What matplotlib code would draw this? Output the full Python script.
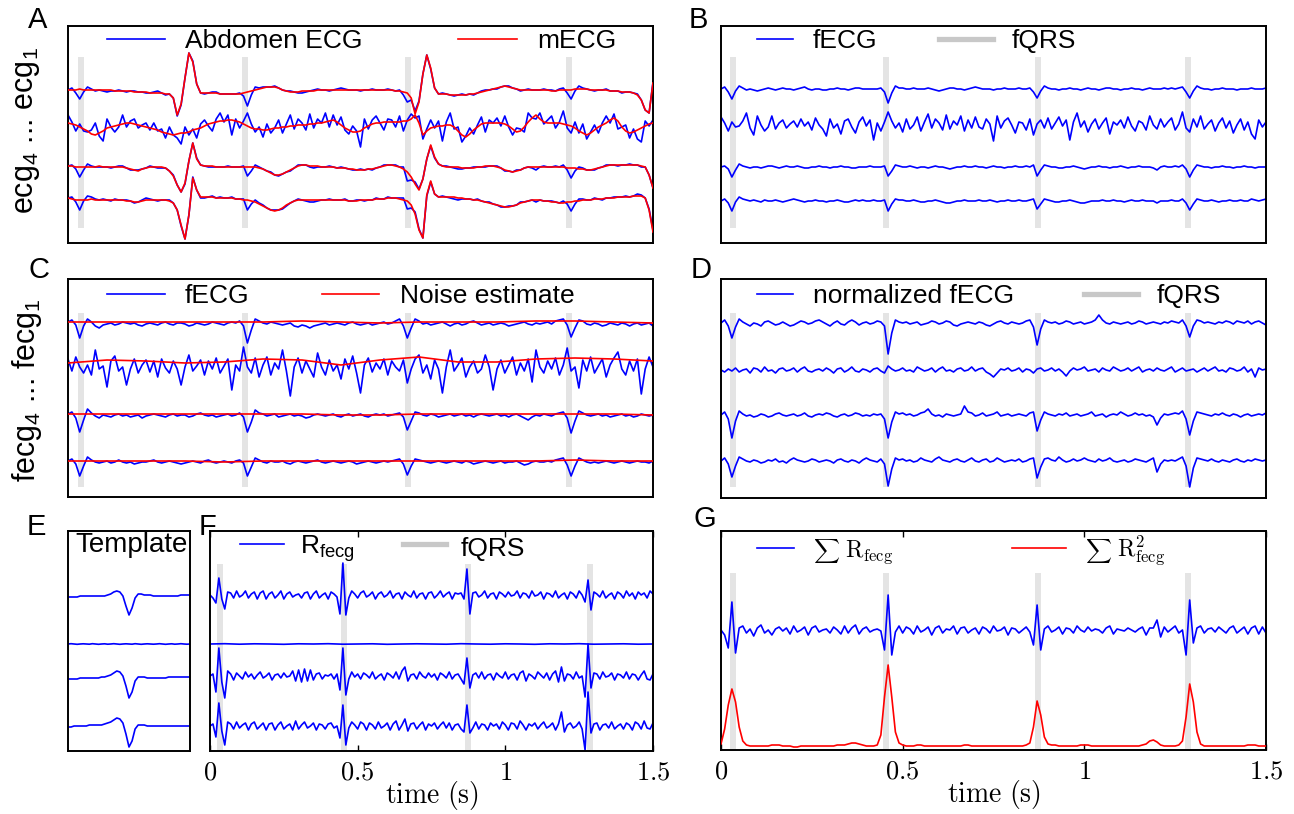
import numpy as np
import matplotlib
matplotlib.use('Agg')
import matplotlib.pyplot as plt
from matplotlib.lines import Line2D

# fetal QRS times (s)
fqrs_times = [0.033, 0.455, 0.872, 1.285]

# A: maternal ECG estimate per channel (px, up = positive), 0..1.5 s every 10 ms
mecg_1 = [0, 0, 0, 1, 0, 0, 0, 0, 0, 0,
          0, 0, -1, -1, -1, -1, -1, -2, -2, -2,
          -2, -3, -3, -3, -3, -4, -4, -8, -25, -14,
          12, 37, 28, 6, -3, -3, -3, -3, -3, -4,
          -4, -4, -4, -4, -4, -3, -2, -1, 0, 1,
          2, 3, 3, 3, 2, 0, -1, -2, -2, -2,
          -1, -1, -1, -1, 0, 0, 0, 0, 0, 0,
          0, 0, 0, 0, 0, 0, 0, 0, 0, 0,
          0, 0, 0, 0, -1, -1, -2, -3, -8, -24,
          -12, 16, 35, 22, 2, -4, -4, -4, -5, -5,
          -5, -5, -5, -4, -4, -3, -2, -1, 0, 1,
          2, 3, 4, 3, 2, 1, 0, 0, 0, 0,
          0, 0, 0, 0, -1, -1, 0, 0, 0, 0,
          1, 1, 1, 1, 0, 0, 0, 0, 0, -1,
          -1, -1, -2, -2, -2, -3, -5, -10, -20, -23,
          7]
mecg_2 = [2, 1, 0, -2, -4, -6, -9, -10, -8, -6,
          -3, -2, -1, 0, 1, 2, 2, 1, 0, -1,
          -2, -3, -4, -5, -7, -8, -9, -10, -9, -8,
          -8, -7, -5, -4, -3, -1, 1, 2, 3, 4,
          4, 5, 5, 4, 3, 1, -1, -3, -4, -4,
          -5, -5, -4, -3, -3, -2, -2, -1, -1, 0,
          0, 0, 1, 1, 2, 2, 3, 4, 5, 3,
          0, -3, -5, -7, -7, -6, -3, -1, 1, 2,
          2, 3, 3, 3, 3, 3, 4, 4, 6, 10,
          2, -10, -6, -3, -2, -1, -1, 0, 0, -2,
          -6, -10, -12, -9, -5, -2, 1, 2, 2, 2,
          2, 2, 1, -1, -4, -7, -6, -2, 3, 7,
          10, 6, 3, 2, 2, 2, 2, 1, 0, -1,
          -3, -6, -8, -10, -8, -5, -2, 0, 2, 5,
          7, 4, -2, -6, -8, -7, -5, -3, -1, 1,
          2]
mecg_3 = [1, 1, 0, 0, 0, 0, 0, 0, 1, 0,
          0, 0, 0, 0, 0, -1, -2, -3, -4, -2,
          -1, 0, 0, 0, 0, -1, -4, -9, -18, -25,
          -16, 6, 24, 8, 2, 1, 1, 1, 0, 0,
          0, 0, 0, 0, 0, 0, 0, 0, 0, -1,
          -2, -4, -6, -8, -8, -7, -5, -3, -1, 1,
          2, 2, 1, 1, 1, 0, 0, 0, 0, -1,
          -1, -1, -2, -2, -3, -3, -3, -2, -2, -1,
          0, 1, 2, 2, 1, 0, -2, -5, -10, -17,
          -23, -12, 8, 22, 10, 3, 1, 0, 0, 0,
          0, -1, -1, -1, -1, 0, 0, 1, 1, 1,
          0, -1, -3, -4, -5, -4, -3, -1, 0, 0,
          0, 0, 0, 0, 0, 0, 0, 0, -1, -1,
          -1, -2, -2, -3, -3, -2, -1, 0, 1, 2,
          2, 2, 2, 2, 2, 2, 2, 1, 0, -8,
          -21]
mecg_4 = [2, 1, 0, 0, 0, 0, 1, 0, 0, 0,
          0, 0, 0, 0, 0, -1, -1, -2, -2, -1,
          0, 0, 0, 0, 0, 0, -1, -3, -10, -25,
          -39, -15, 22, 10, 3, 3, 3, 3, 2, 2,
          2, 2, 2, 1, 1, 0, 0, -1, -2, -4,
          -6, -8, -10, -11, -10, -8, -5, -3, -1, 0,
          0, 0, 0, 0, 0, 0, 0, 0, 0, 0,
          0, 0, -1, -1, -1, 0, 0, 0, 0, 1,
          1, 1, 2, 2, 2, 1, 0, -1, -5, -14,
          -30, -38, 5, 19, 6, 3, 3, 3, 3, 3,
          2, 2, 1, 1, 0, 0, -1, -2, -3, -4,
          -5, -6, -7, -7, -6, -5, -3, -2, -1, 0,
          0, 0, -1, -1, -2, -2, -3, -3, -2, -2,
          -1, -1, 0, 0, 0, 1, 1, 1, 2, 2,
          2, 3, 3, 3, 3, 4, 4, 4, 2, -10,
          -32]

# B: fetal ECG (abdomen minus mECG)
fecg_1 = [0, 2, -3, -10, -2, 3, 1, -1, 0, -1,
          -2, -1, 0, 1, 0, -1, 0, 1, 0, 0,
          -1, 0, 1, 2, 0, -1, 0, 0, -1, -1,
          0, 0, 1, 0, 0, -1, 0, 1, 1, 0,
          0, 0, 0, 0, 1, -3, -14, -4, 3, 1,
          1, 0, 0, 1, 0, 0, 0, 1, 0, -1,
          -2, -1, 0, 1, 1, 0, 0, -1, 0, 1,
          2, 1, 0, 0, 0, -1, 0, 0, 1, 0,
          0, 0, 1, 0, 0, 1, -3, -9, -2, 3,
          1, 0, 0, -1, 0, 0, 1, 0, 0, -1,
          0, 1, 0, 0, -1, 0, 1, 1, 0, 0,
          -1, 0, 0, 1, 0, 0, -1, 0, 1, 0,
          0, 0, 1, 0, 1, 0, 1, 2, -3, -9,
          -2, 3, 1, 0, 0, -1, 0, 0, 1, 0,
          0, 0, -1, 0, 0, 0, 1, 0, 0, 0,
          1]
fecg_2 = [8, 2, -6, 3, -2, -1, 4, 12, -3, -10,
          9, 0, -6, -2, 9, -4, 2, 5, -3, 1,
          4, -2, 6, -1, 3, -5, 7, 0, -4, -11,
          6, -3, 1, -9, 4, 6, -2, -8, 3, 8,
          -1, 5, -15, 2, -6, 3, 13, 4, -3, 2,
          -7, 6, -4, 0, 8, -6, 3, 11, -3, 6,
          2, -5, 10, -4, 4, 0, 9, -6, 5, -3,
          8, -2, -4, 6, 1, -16, 9, -3, 4, 7,
          0, -8, 3, 2, -5, 6, -10, 1, 5, -3,
          7, -4, 2, 8, -1, 5, -15, 3, 12, -2,
          4, -7, 1, 6, -4, 2, 7, -9, 3, 0,
          5, -3, 8, -1, -6, 4, 2, -5, 9, 0,
          -4, 6, -2, 3, 7, -5, 1, 13, -3, -7,
          6, -2, 9, -4, 1, 5, -6, 2, 7, -3,
          4, -8, 0, 6, -5, 3, -9, -14, 5, -2,
          3]
fecg_3 = [0, 1, -2, -10, -3, 3, 1, 0, -1, 0,
          0, -1, 0, 1, 1, 0, -1, 0, 1, 0,
          0, 1, 0, -1, -1, 0, 0, 1, 0, 0,
          -1, 0, 0, 1, 0, 0, -1, -1, 0, 0,
          0, 1, 0, 0, 0, 1, -9, -4, 2, 1,
          0, 0, 1, 0, -1, 0, 0, -1, 0, 1,
          0, 0, -1, -2, -1, 0, 0, 1, 0, 0,
          1, 0, 0, -1, 0, 1, 0, 0, -1, 0,
          0, 1, 0, 0, 1, 0, 2, -9, -3, 2,
          1, 0, 0, -1, -1, 0, 0, 1, 0, -1,
          -2, -1, 0, 0, 1, 0, 0, -1, 0, 0,
          1, 0, -1, 0, 0, 1, 0, 0, 0, -1,
          -3, 0, 1, 0, 0, 1, 0, 2, -2, -10,
          -3, 2, 1, 0, 0, -1, 0, 0, 1, 0,
          0, -1, 0, 0, 1, 0, 0, -1, 0, 0,
          0]
fecg_4 = [0, 2, -2, -10, -1, 4, 2, 1, 0, 1,
          0, -1, 1, 0, 0, 1, 0, -1, 0, 1,
          2, 1, 0, -1, 0, 0, 1, 0, 0, -1,
          0, 0, 1, 0, -1, -1, 0, 1, 0, 1,
          0, 0, 1, 0, 0, 1, -10, -3, 2, 1,
          1, 0, 0, 1, 0, -1, -1, 0, 0, 1,
          0, -1, -2, -2, -1, 0, 0, 1, 0, 0,
          0, 1, 0, 0, 1, 0, -1, 0, 0, 1,
          0, 0, 1, 0, 0, 1, 2, -8, -3, 2,
          1, 0, -1, -1, 0, 0, 1, 0, -1, -2,
          -2, -1, 0, 0, 0, 1, 0, 0, 1, 0,
          0, -1, 0, 1, 0, 0, 1, 0, 0, 0,
          -2, 0, 0, 0, 1, 0, 0, 2, -2, -9,
          -3, 2, 1, 0, 0, 1, 0, -1, 0, 0,
          1, 0, 0, 1, 0, 0, 2, 1, 0, 1,
          2]

# C: filtered fECG and noise estimate (noise every 100 ms)
cfecg_1 = [0, 2, -3, -16, -4, 3, 0, -4, -6, -3,
           -2, -1, -3, -2, 0, -1, -2, -1, -3, -4,
           -2, -1, -2, -3, -1, 0, -2, -3, -1, -1,
           -2, -4, -3, -1, -2, -3, -2, 0, -1, -2,
           -3, -1, 0, -1, 1, -4, -21, -8, 3, 1,
           -1, -2, 0, -1, -2, -3, -2, -1, -4, -5,
           -3, -4, -6, -4, -3, -2, -1, -3, -2, -1,
           -2, -3, -1, 0, -2, -3, -2, -1, -3, -2,
           -1, 0, -2, -1, 1, 3, -4, -16, -6, 3,
           1, -2, -1, -3, -2, -1, 0, -2, -4, -2,
           -1, -3, -2, 0, 1, -1, -3, -2, -1, -3,
           -2, -1, -2, -4, -3, -2, -1, 0, -2, -3,
           -1, -2, -1, 0, -2, 1, 2, 3, -3, -15,
           -6, 2, 1, -2, -3, -1, -2, -4, -3, -1,
           -2, -3, -1, -2, -4, -2, -1, -3, -2, -1,
           -4]
cfecg_2 = [4, -8, 6, -4, -10, -2, -12, 13, -6, -3,
           -24, 2, 7, -8, -4, -22, -6, 4, -10, -2,
           3, -9, 2, -14, 4, -5, -10, 2, -6, -22,
           -4, 8, -8, -3, 3, -12, 2, -6, 5, -10,
           -3, 4, -27, -2, -8, 16, -4, -10, 5, -14,
           -2, 6, -12, 0, -6, 13, -8, -33, -4, 5,
           -10, 2, -6, -14, 10, -4, -12, 3, -8, -2,
           -16, 4, -6, 7, -10, -30, -2, 5, -9, 0,
           -6, 4, -12, 2, -4, -8, 3, -20, -6, 4,
           8, -10, -2, -16, 3, -6, -30, -4, 13, -8,
           -2, 5, -14, -4, 2, -10, -6, 8, -4, -27,
           -6, 3, -10, -2, 6, -12, 0, -8, 4, -19,
           13, -4, -10, 2, -6, 5, -12, -2, 15, -8,
           -4, -25, 3, -8, 6, -10, -3, 4, -14, -2,
           5, 11, -6, -12, 2, -8, 4, -31, -6, 6,
           -4]
cfecg_3 = [0, 2, -4, -18, -6, 5, 1, -2, -4, -1,
           -2, -3, -1, 0, -2, -1, -3, -2, -1, -4,
           -2, -1, 0, -1, -2, -3, -1, 0, -2, -1,
           -1, -3, -2, 0, 1, -1, -2, -1, -3, -2,
           -1, 0, -2, -1, 1, -3, -18, -8, 4, 1,
           0, -2, -1, 0, -3, -2, -1, 0, -2, -1,
           -2, -4, -3, -1, 0, -1, -2, -1, 0, -2,
           -3, -1, 0, -2, -1, 0, -2, -3, -1, 0,
           -1, 0, -2, -1, 0, 1, -3, -16, -7, 2,
           1, -1, -2, 0, -1, -3, -2, -1, 0, -2,
           -1, 0, -2, -1, -3, -1, 0, -1, -2, -1,
           0, -2, -1, -3, -1, 0, -2, -4, -6, -3,
           -1, -2, 0, -1, -2, 0, 1, 2, -4, -19,
           -7, 3, 1, -1, -2, -1, 0, -2, -1, -3,
           -2, -1, 0, -2, -1, -3, -2, 0, -1, -2,
           -1]
cfecg_4 = [0, 2, -3, -15, -5, 4, 1, -1, -2, -1,
           0, -2, -1, 1, -1, -2, -1, -3, -2, -1,
           -1, 0, 1, -1, -2, -1, 0, -1, -2, -3,
           -2, -1, 0, -1, -2, 0, 1, -1, -2, -1,
           0, -1, -2, 0, 1, -2, -15, -6, 3, 1,
           -1, -2, 0, -1, -1, 0, -2, -3, -1, 0,
           -1, -2, -1, 0, 1, -1, -2, -1, 0, -1,
           -2, -1, 0, -1, -3, -2, -1, 0, -1, -2,
           -1, 0, -1, 0, 1, 2, -3, -14, -5, 2,
           1, 0, -1, -2, -1, 0, -1, -2, -1, 0,
           -1, -2, 0, -1, -3, -2, -1, 0, -1, -2,
           -1, 0, -2, -1, -1, 0, -2, -4, -3, -1,
           0, -1, -1, 0, -1, 1, 2, 3, -4, -15,
           -5, 3, 1, -1, -2, -1, -2, -1, 0, -1,
           -2, -1, 0, -1, -2, -1, 0, -1, -1, -2,
           0]
noise_1 = [0, 0, 0, 0, 0, 0, 1, 0, -1, 0, 0, 0, 1, 1, 0, -1]
noise_2 = [0, 3, 2, 0, 1, 4, 3, -2, 3, 6, 1, 1, 4, 5, 4, 2]
noise_3 = [0, 0, 0, 0, 0, 0, 0, -1, -1, 0, 0, 0, 0, 0, 0, -1]
noise_4 = [0, 0, 0, 0, -1, 0, 0, 0, 0, 0, 0, 0, 0, 1, 0, 0]

# D: normalized fECG
nfecg_1 = [0, 3, -3, -15, -4, 4, 1, -1, -3, 0,
           -1, -3, 1, 2, 0, -2, -1, 1, -1, -3,
           -2, 0, 2, 1, -1, 0, 2, 3, 1, -1,
           -3, 0, 2, -1, -2, 1, 3, 1, -2, 0,
           1, -1, 0, 2, 1, -3, -31, -10, 3, 1,
           0, 1, -1, 0, 1, -2, -1, 0, 2, 1,
           -1, 0, 2, 1, -2, -3, -1, 0, 1, 0,
           -1, 1, 0, -2, -3, -1, 1, 2, 0, -1,
           1, 0, -1, 0, 2, 3, -4, -22, -6, 3,
           1, 0, 1, -1, 0, 2, 1, -1, 0, 1,
           -1, 0, 1, 3, 8, 3, 0, -1, 1, 0,
           -1, 0, 1, -1, 0, 2, 1, -1, 0, 1,
           0, -1, 1, 0, 2, 1, 0, 3, -3, -14,
           -3, 3, 2, 0, 1, 0, -1, 1, 0, 2,
           1, -1, 2, 1, 0, 2, -1, 1, 2, 0,
           -2]
nfecg_2 = [0, -2, 1, -1, 2, -2, 0, 1, -3, 2,
           1, -2, 3, -1, 0, -3, 1, 2, -1, 0,
           2, -2, 1, 3, -1, -2, 0, 1, -1, 2,
           0, -3, 1, 2, -2, 0, 3, -1, -2, 1,
           0, -2, 1, 2, -1, -3, 4, 1, -1, 0,
           2, -1, 0, -2, 3, 1, -1, 0, 2, -2,
           1, 3, -1, 0, -2, 1, 2, -1, 0, 3,
           -1, 1, 2, -2, -4, -7, -3, 1, 0, 2,
           -1, 0, 2, -2, 1, 0, -3, 1, 2, -1,
           0, 2, -1, 1, -2, -6, -1, 2, 0, 1,
           3, -1, 0, 1, -2, 2, 0, -1, 3, 1,
           -1, 0, 2, -1, 1, 3, -2, 0, 1, -1,
           2, 0, -1, 1, 3, -2, 0, 2, -1, 0,
           1, -2, 0, 2, -1, 1, 3, -1, 0, -2,
           2, 1, -1, 0, 3, -2, 1, -7, 2, 0,
           1]
nfecg_3 = [0, 3, -4, -23, -6, 4, 1, -1, 0, -2,
           -1, 1, 0, -2, -1, 1, 2, 0, -1, 0,
           1, -1, 0, 2, -1, -2, 0, 1, 0, 2,
           1, -1, -2, 0, 1, -1, 0, 2, 1, -1,
           0, -1, 1, 0, 1, -4, -23, -7, 3, 1,
           2, 0, 1, -1, 0, 2, 3, 6, 1, -1,
           0, -2, 1, 0, -1, 0, 1, 9, 3, 2,
           -1, 0, 2, -1, 0, 1, 3, -1, 0, 1,
           -1, 0, 1, 0, -1, 2, 3, -16, -5, 3,
           1, 0, -1, 1, 0, 2, -1, 0, 1, -1,
           0, 1, 3, -1, 0, 1, -2, 0, 1, 0,
           3, 1, -1, 0, 2, 0, 1, -1, 0, -2,
           -10, -3, 1, 0, 1, 2, 1, 4, -4, -20,
           -6, 3, 2, 1, 0, -1, 1, 0, 2, 0,
           -1, 1, 0, -2, 0, 1, -1, 0, 1, 0,
           2]
nfecg_4 = [0, 3, -3, -16, -5, 4, 2, 0, -1, 1,
           0, -2, -1, 1, 0, 2, -1, 0, -2, 1,
           3, 1, 0, -1, 0, 2, 1, -1, 0, 1,
           0, -2, 1, 2, 0, -1, 1, 0, -2, 1,
           3, 1, 0, -1, 2, -3, -25, -8, 3, 1,
           2, 0, 1, -1, 0, 3, 1, 0, -1, 2,
           4, 1, 0, -1, 1, 2, 0, -1, 1, 3,
           0, -1, 1, 2, -1, 0, 3, 1, -1, 0,
           1, 0, 2, -1, 0, 2, 3, -17, -6, 2,
           3, 1, 0, 4, 1, -1, 0, 2, 0, 1,
           3, 1, 0, -1, 2, 0, 1, 3, 0, -1,
           0, 1, -1, 0, 2, 1, 0, -1, 1, 3,
           -11, -3, 1, 0, 1, 0, 2, 4, -5, -26,
           -7, 3, 2, 1, 0, 2, 0, -1, 1, 0,
           -1, 1, 2, 0, -1, 1, 0, 2, 1, 0,
           1]

# E: templates (41 samples)
tpl_1 = [-1, -1, -1, -1, 0, 0, 0, 0, 0, 0,
         0, 0, 0, 1, 2, 4, 5, 4, 0, -10,
         -19, -12, -2, 2, 2, 1, 1, 1, 0, 0,
         0, 0, 0, 0, 0, 0, 0, 1, 1, 1, 1]
tpl_2 = [0, 0.3, 0, -0.3, 0, 0.2, 0, -0.2, 0.3, 0,
         -0.3, 0, 0.2, -0.2, 0, 0.3, 0, -0.3, 0, 0.2,
         0, -0.2, 0.3, 0, -0.3, 0, 0.2, 0, -0.2, 0,
         0.3, 0, -0.3, 0, 0.2, -0.2, 0, 0.3, 0, -0.2, 0]
tpl_3 = [-1, -1, -1, -1, 0, 0, 0, 0, 0, 0,
         0, 1, 1, 2, 3, 5, 7, 6, 2, -8,
         -20, -14, -3, 1, 1, 1, 0, 0, 0, 0,
         0, 0, 0, 1, 1, 1, 1, 1, 1, 1, 1]
tpl_4 = [-1, -1, 0, 0, 0, 0, 0, 1, 1, 1,
         1, 1, 2, 3, 4, 6, 8, 7, 3, -8,
         -21, -15, -3, 1, 1, 1, 0, 0, 0, 0,
         0, 0, 0, 0, 0, 0, 0, 0, 0, 0, 0]

# F: correlation with template
rfecg_1 = [0, -3, -8, 17, -4, -14, 3, 2, -3, 4,
           -2, 0, 4, -3, 1, 3, -4, 2, 4, -4,
           1, 3, -3, 0, 4, -4, 1, 3, -2, 0,
           1, -3, 2, 3, -4, 1, 4, -3, 0, 2,
           -4, 3, 1, -2, -19, 32, -20, -3, 4, 1,
           -3, 2, 4, -2, 0, 3, -4, 1, 3, -2,
           0, 4, -3, 1, 2, -4, 3, 0, -2, 4,
           -3, 1, 2, -4, 2, 3, -3, 0, 4, -2,
           1, 3, -4, 2, 1, 2, -4, 26, -19, 2,
           3, -2, 0, 4, -3, 1, 2, -4, 3, 1,
           -2, 3, -1, 0, 4, -3, 2, 1, -3, 4,
           -1, 0, 3, -4, 2, 1, -2, 4, -3, 0,
           2, -4, 3, 1, -3, 4, 0, -7, 15, -15,
           3, 1, -2, 4, -3, 0, 2, -4, 3, 1,
           -3, 4, -1, 2, -4, 3, 0, 2, -3, 4,
           1]
rfecg_2 = [0, 0.3, -0.2, 0.2, 0, -0.3, 0.2, 0, 0.3, -0.2,
           0, 0.2, -0.3, 0, 0.2, 0, -0.2, 0.3, 0, -0.2,
           0.2, 0, -0.3, 0.2, 0, 0.3, -0.2, 0, 0.2, -0.2, 0]
rfecg_3 = [0, 2, -16, 28, -6, -22, 5, 2, -4, 3,
           0, -3, 4, -1, 2, -3, 1, 4, -2, 0,
           3, -4, 1, 2, -2, 3, -1, 0, 5, -5,
           6, -6, 7, -5, 6, -4, 2, 3, -3, 1,
           0, 2, -3, 2, -14, 28, -19, -3, 4, -1,
           2, -3, 3, 1, -2, 4, -3, 0, 2, -4,
           3, 1, -2, 4, -3, 5, 9, -5, 1, 2,
           -3, 4, 0, -2, 3, -1, 2, -4, 3, 1,
           -2, 4, -3, 1, 2, -3, -8, 18, -12, 1,
           3, -2, 4, -3, 1, 2, -4, 3, 0, -2,
           4, -3, 1, 2, -4, 3, 5, -5, 2, 0,
           -3, 4, 1, -2, 3, -4, 2, 5, -6, 9,
           -5, 2, 1, -3, 4, -2, 0, -21, 32, -12,
           3, 2, -3, 4, -1, 0, 3, -4, 2, 1,
           -2, 4, -3, 2, 1, -4, 1, 5, -3, -4,
           2]
rfecg_4 = [0, 2, -11, 23, -5, -19, 4, 2, -3, 4,
           -2, 1, 3, -4, 2, 4, -3, 0, 3, -4,
           2, 3, -4, 1, 4, -3, 0, 2, -4, 5,
           -3, 1, 4, -2, 0, 3, -4, 2, 1, -3,
           2, 3, -2, 0, -12, 21, -19, -2, 4, 1,
           -3, 4, 2, -4, 3, 1, -3, 4, -2, 0,
           3, -4, 2, 5, -4, 1, 7, -5, 2, 3,
           -3, 1, 4, -4, 2, 0, 3, -3, 1, 4,
           -2, 3, -4, 1, 2, -3, -6, 21, -7, -2,
           4, -3, 2, 1, -4, 3, 0, 2, -3, 4,
           1, -4, 3, 2, -3, 5, 1, -4, 2, 0,
           3, -3, 1, 4, -2, 0, 3, -4, 2, 14,
           -6, 1, 3, -2, 0, 4, -3, -24, 34, -7,
           2, 3, -4, 1, 2, -2, 4, -3, 0, 2,
           -3, 3, 1, -4, 4, 2, -3, 5, -2, -3,
           3]

# G: summed correlation and summed squared correlation
sum_r = [0, -5, -18, 28, -23, 2, 4, -3, 1, -6,
         2, 5, -3, 0, -5, 1, 3, -1, 2, -4,
         4, -2, 0, 3, -5, 2, 4, -2, 0, 1,
         -3, 3, 0, -4, 4, -3, 2, 5, -4, 1,
         3, -2, 0, 1, -1, -20, 35, -25, -2, 4,
         -3, 3, 1, -4, 4, -2, 0, 3, -5, 2,
         4, -3, 1, 0, 4, -4, 2, 3, -3, 0,
         2, -4, 3, 1, -3, 4, -1, 0, 3, -5,
         2, 1, -3, 0, 3, -2, -15, 25, -20, 1,
         4, -2, 0, 3, -4, 2, 1, -3, 4, 0,
         -2, 3, -1, 1, 0, -3, 2, 4, -4, 1,
         0, -1, 2, 0, -2, 1, 3, -5, 2, 2,
         10, -7, 3, -2, 1, 4, -3, 0, -25, 30,
         -13, 2, 4, -3, 1, 2, -2, 3, 0, -3,
         2, 4, -3, 0, 3, -4, 2, 4, -4, 3,
         -3]
sum_r2 = [3, 18, 42, 58, 45, 20, 6, 2, 1, 1,
          1, 1, 1, 1, 2, 2, 2, 1, 1, 1,
          0, 0, 1, 1, 1, 1, 1, 1, 1, 1,
          1, 1, 2, 2, 2, 3, 4, 4, 3, 2,
          1, 1, 1, 2, 12, 50, 82, 50, 15, 4,
          2, 1, 1, 1, 2, 2, 1, 1, 1, 1,
          1, 1, 1, 1, 1, 1, 1, 2, 2, 1,
          1, 1, 1, 1, 1, 1, 1, 1, 1, 1,
          1, 1, 1, 1, 2, 4, 20, 46, 32, 10,
          3, 2, 2, 1, 1, 1, 1, 1, 1, 2,
          2, 2, 1, 1, 1, 1, 1, 1, 1, 1,
          1, 1, 1, 1, 1, 1, 2, 3, 6, 7,
          5, 2, 1, 1, 1, 1, 2, 6, 30, 63,
          45, 15, 3, 1, 1, 1, 1, 1, 1, 1,
          1, 1, 1, 1, 1, 2, 2, 2, 1, 1,
          1]

BLUE = '#0000ff'
RED = '#ff0000'
BAR = '#e4e4e4'
W, H = 1294, 814

plt.rcParams['font.family'] = ['Liberation Sans', 'DejaVu Sans']
plt.rcParams['mathtext.fontset'] = 'custom'
plt.rcParams['mathtext.rm'] = 'Liberation Sans'
plt.rcParams['mathtext.it'] = 'Liberation Sans:italic'
plt.rcParams['mathtext.bf'] = 'Liberation Sans:bold'

fig = plt.figure(figsize=(W / 100, H / 100), dpi=100)


def px_axes(l, t, r, b, xmax=1.5):
    # axes placed by pixel box, y in pixels (down = larger)
    ax = fig.add_axes([l / W, 1 - b / H, (r - l) / W, (b - t) / H])
    ax.set_xticks([])
    ax.set_yticks([])
    for s in ax.spines.values():
        s.set_linewidth(1.4)
    ax.set_xlim(0, xmax)
    ax.set_ylim(b, t)
    return ax


def trace(ax, base, vals, color, z=2, x_max=1.5):
    v = np.asarray(vals, dtype=float)
    ax.plot(np.linspace(0, x_max, len(v)), base - v, color=color, lw=1.2, zorder=z)


def ftext(x, yb, s, size=19, **kw):
    return fig.text(x / W, 1 - yb / H, s, ha='left', va='baseline', fontsize=size, **kw)


def legend_item(x0, x1, y, color, lw, xt, yb, label, size=19, **kw):
    fig.add_artist(Line2D([x0 / W, x1 / W], [1 - y / H, 1 - y / H], color=color, lw=lw))
    if label:
        ftext(xt, yb, label, size, **kw)


def letter(x, yb, s):
    ftext(x, yb, s, size=21)


# ---- A
ax = px_axes(68, 26, 653, 243)
ax.vlines(fqrs_times, 57, 228, colors=BAR, lw=4.3, zorder=1)
for base, m, f in zip([90, 125, 167, 200], [mecg_1, mecg_2, mecg_3, mecg_4],
                      [fecg_1, fecg_2, fecg_3, fecg_4]):
    n = min(len(m), len(f))
    trace(ax, base, np.add(m[:n], f[:n]), BLUE)
    trace(ax, base, m, RED, z=3)
legend_item(107, 165, 39, BLUE, 1.2, 185, 48, 'Abdomen ECG')
legend_item(458, 517, 39, RED, 1.2, 537, 48, 'mECG')
letter(28, 28, 'A')
fig.text(27 / W, 1 - 131 / H, 'ecg$_4$ ... ecg$_1$', rotation=90, ha='center', va='center', fontsize=22)

# ---- B
ax = px_axes(721, 26, 1266, 243)
ax.vlines(fqrs_times, 57, 228, colors=BAR, lw=4.3, zorder=1)
for base, f in zip([89, 125, 167, 201], [fecg_1, fecg_2, fecg_3, fecg_4]):
    trace(ax, base, f, BLUE)
legend_item(757, 793, 39, BLUE, 1.2, 813, 48, 'fECG')
legend_item(939, 993, 39, '#c8c8c8', 3.8, 1012, 48, 'fQRS')
letter(689, 28, 'B')

# ---- C
ax = px_axes(68, 279, 653, 497)
ax.vlines(fqrs_times, 313, 487, colors=BAR, lw=4.3, zorder=1)
for base, f, nz in zip([322, 363, 414, 461], [cfecg_1, cfecg_2, cfecg_3, cfecg_4],
                       [noise_1, noise_2, noise_3, noise_4]):
    trace(ax, base, f, BLUE)
    trace(ax, base, nz, RED, z=3)
legend_item(107, 165, 294, BLUE, 1.2, 185, 303, 'fECG')
legend_item(322, 379, 294, RED, 1.2, 400, 303, 'Noise estimate')
letter(28, 278, 'C')
fig.text(27 / W, 1 - 390 / H, 'fecg$_4$ ... fecg$_1$', rotation=90, ha='center', va='center', fontsize=22)

# ---- D
ax = px_axes(721, 279, 1266, 498)
ax.vlines(fqrs_times, 313, 487, colors=BAR, lw=4.3, zorder=1)
for base, f in zip([323, 370, 415, 461], [nfecg_1, nfecg_2, nfecg_3, nfecg_4]):
    trace(ax, base, f, BLUE)
legend_item(757, 793, 294, BLUE, 1.2, 813, 303, 'normalized fECG')
legend_item(1084, 1138, 294, '#c8c8c8', 3.8, 1157, 303, 'fQRS')
letter(691, 278, 'D')

# ---- E
ax = px_axes(68, 531, 190, 751, xmax=40)
for base, f in zip([596, 644, 678, 726], [tpl_1, tpl_2, tpl_3, tpl_4]):
    trace(ax, base, f, BLUE, x_max=40)
ftext(75, 552, 'Template', size=20)
letter(27, 535, 'E')


def time_axis(ax):
    ax.set_xticks([0, 0.5, 1, 1.5])
    ax.set_xticklabels(['$0$', '$0.5$', '$1$', '$1.5$'])
    ax.tick_params(axis='x', direction='in', length=4, width=1, top=True,
                   labelsize=19, pad=7)
    for lb in ax.get_xticklabels():
        lb.set_math_fontfamily('cm')
    ax.set_xlabel(r'$\mathrm{time\ (s)}$', fontsize=20, labelpad=-4, math_fontfamily='cm')


# ---- F
ax = px_axes(210, 531, 653, 751)
ax.vlines(fqrs_times, 564, 751, colors=BAR, lw=4.3, zorder=1)
for base, f in zip([595, 644, 676, 726], [rfecg_1, rfecg_2, rfecg_3, rfecg_4]):
    trace(ax, base, f, BLUE)
time_axis(ax)
legend_item(240, 284, 544, BLUE, 1.2, 300, 554, 'R$_{\\rm fecg}$')
legend_item(403, 446, 544, '#c8c8c8', 3.8, 461, 556, 'fQRS')
letter(199, 535, 'F')

# ---- G
ax = px_axes(721, 531, 1266, 750)
ax.vlines(fqrs_times, 573, 750, colors=BAR, lw=4.3, zorder=1)
trace(ax, 630, sum_r, BLUE)
trace(ax, 747, sum_r2, RED, z=3)
time_axis(ax)
legend_item(757, 794, 548, BLUE, 1.2, 0, 0, '')
ftext(813, 557, r'$\sum$', size=13, math_fontfamily='cm')
ftext(845, 557, r'$\mathrm{R}_{\mathrm{fecg}}$', size=17, math_fontfamily='cm')
legend_item(1012, 1066, 548, RED, 1.2, 0, 0, '')
ftext(1085, 557, r'$\sum$', size=13, math_fontfamily='cm')
ftext(1117, 557, r'$\mathrm{R}_{\mathrm{fecg}}^{2}$', size=17, math_fontfamily='cm')
letter(694, 527, 'G')

fig.savefig('out.png', dpi=100)
